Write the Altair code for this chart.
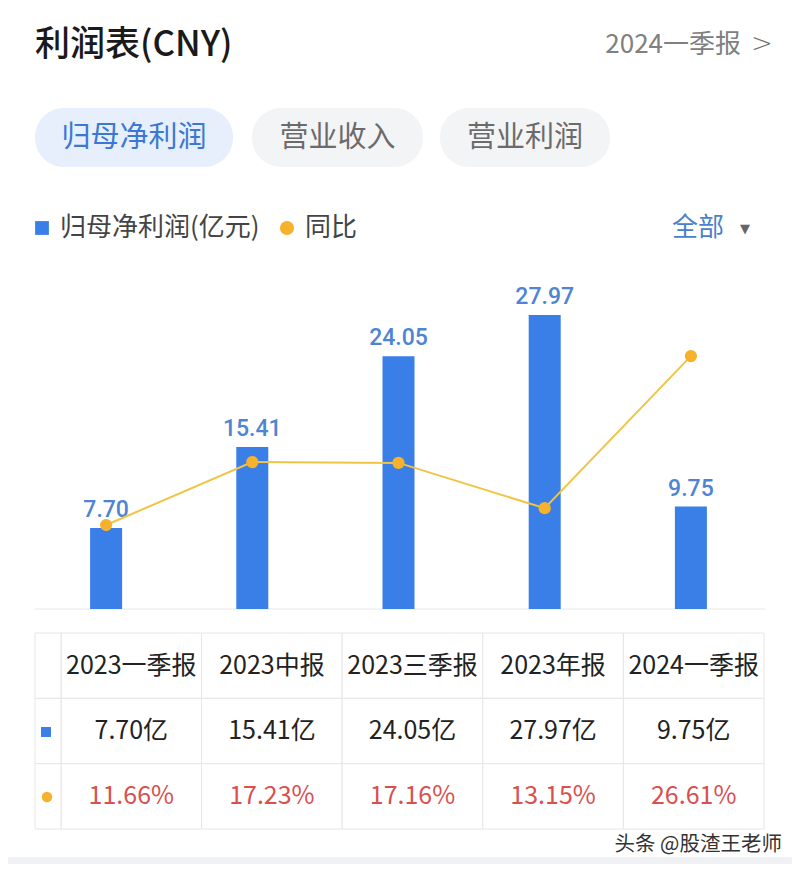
import altair as alt
import pandas as pd

# ---- data ----
periods = ["2023一季报", "2023中报", "2023三季报", "2023年报", "2024一季报"]
profit = [7.70, 15.41, 24.05, 27.97, 9.75]
yoy = [11.66, 17.23, 17.16, 13.15, 26.61]
tabs = ["归母净利润", "营业收入", "营业利润"]
title_text = "利润表(CNY)"
period_pick = "2024一季报"
legend_bar = "归母净利润(亿元)"
legend_line = "同比"
filter_text = "全部"
watermark = "头条 @股渣王老师"
rows = ["header", "value", "pct"]

W, H = 784, 856
FONT = "Noto Sans CJK SC"

df = pd.DataFrame({"period": periods, "profit": profit, "yoy": yoy})

table_records = []
for p, v, r in zip(periods, profit, yoy):
    table_records.append({"period": p, "row": "header", "label": p})
    table_records.append({"period": p, "row": "value", "label": f"{v:.2f}亿"})
    table_records.append({"period": p, "row": "pct", "label": f"{r:.2f}%"})
table = pd.DataFrame(table_records)


def one(text):
    return alt.Chart(pd.DataFrame({"t": [text]}))


# ---- scales ----
x_chart = alt.Scale(domain=periods, range=[25, 756], paddingInner=0, paddingOuter=0)
y_bar = alt.Scale(domain=[0, 34.16], range=[601, 242], nice=False, zero=True)
y_line = alt.Scale(domain=[4.23, 36.0], range=[601, 242], nice=False, zero=False)
x_table = alt.Scale(domain=periods, range=[53, 756], paddingInner=0, paddingOuter=0)
y_table = alt.Scale(domain=rows, range=[625, 821], paddingInner=0, paddingOuter=0)

layers = []

# ---- header ----
layers.append(one(title_text).mark_text(font=FONT, fontSize=35, fontWeight=500, color="#1a1a1a",
                                         align="left", baseline="middle").encode(
    x=alt.value(27), y=alt.value(37), text="t:N"))
layers.append(one(period_pick).mark_text(font=FONT, fontSize=26, color="#808080",
                                          align="right", baseline="middle").encode(
    x=alt.value(733), y=alt.value(37), text="t:N"))
layers.append(one(">").mark_text(font="DejaVu Sans", fontSize=26, fontWeight=200, color="#707070",
                                  align="center", baseline="middle").encode(
    x=alt.value(754), y=alt.value(36), text="t:N"))

# tabs
tab_boxes = [(27, 225), (244, 415), (432, 602)]
for i, (name, (x0, x1)) in enumerate(zip(tabs, tab_boxes)):
    active = i == 0
    layers.append(one(name).mark_rect(cornerRadius=29, fill="#e7effc" if active else "#f3f4f6").encode(
        x=alt.value(x0), x2=alt.value(x1), y=alt.value(100), y2=alt.value(159)))
    layers.append(one(name).mark_text(font=FONT, fontSize=29, color="#3a78d4" if active else "#6b6b6b",
                                       align="center", baseline="middle").encode(
        x=alt.value((x0 + x1) / 2), y=alt.value(130), text="t:N"))

# legend row
layers.append(one("b").mark_square(size=190, color="#3a7ee8", opacity=1).encode(
    x=alt.value(34), y=alt.value(220)))
layers.append(one(legend_bar).mark_text(font=FONT, fontSize=26, color="#444444",
                                         align="left", baseline="middle").encode(
    x=alt.value(52), y=alt.value(220), text="t:N"))
layers.append(one("o").mark_circle(size=200, color="#f6b22d", opacity=1).encode(
    x=alt.value(279), y=alt.value(220)))
layers.append(one(legend_line).mark_text(font=FONT, fontSize=26, color="#444444",
                                          align="left", baseline="middle").encode(
    x=alt.value(297), y=alt.value(220), text="t:N"))
layers.append(one(filter_text).mark_text(font=FONT, fontSize=26, color="#4a7fc9",
                                          align="left", baseline="middle").encode(
    x=alt.value(664), y=alt.value(220), text="t:N"))
layers.append(one("▼").mark_text(font="DejaVu Sans", fontSize=13, color="#666666",
                                  align="center", baseline="middle").encode(
    x=alt.value(737), y=alt.value(221), text="t:N"))

# ---- main chart ----
layers.append(one("base").mark_rule(color="#e8e8e8", strokeWidth=1).encode(
    x=alt.value(27), x2=alt.value(757), y=alt.value(601)))

layers.append(alt.Chart(df).mark_bar(width=32, color="#3a7ee8").encode(
    x=alt.X("period:N", scale=x_chart, axis=None, sort=periods),
    y=alt.Y("profit:Q", scale=y_bar, axis=None)))

layers.append(alt.Chart(df).mark_text(font="Roboto", fontSize=23, fontWeight=500, color="#4f84d2",
                                      dy=-11, baseline="alphabetic", align="center").encode(
    x=alt.X("period:N", scale=x_chart, axis=None, sort=periods),
    y=alt.Y("profit:Q", scale=y_bar, axis=None),
    text=alt.Text("profit:Q", format=".2f")))

layers.append(alt.Chart(df).mark_line(color="#f0c444", strokeWidth=2).encode(
    x=alt.X("period:N", scale=x_chart, axis=None, sort=periods),
    y=alt.Y("yoy:Q", scale=y_line, axis=None)))

layers.append(alt.Chart(df).mark_circle(size=150, color="#f6b22d", opacity=1).encode(
    x=alt.X("period:N", scale=x_chart, axis=None, sort=periods),
    y=alt.Y("yoy:Q", scale=y_line, axis=None)))

# ---- table ----
layers.append(alt.Chart(table).mark_rect(fill="white", stroke="#e6e6e6", strokeWidth=1).encode(
    x=alt.X("period:N", scale=x_table, axis=None, sort=periods),
    y=alt.Y("row:N", scale=y_table, axis=None, sort=rows)))

layers.append(alt.Chart(pd.DataFrame({"row": rows})).mark_rect(
    fill="white", stroke="#e6e6e6", strokeWidth=1).encode(
    x=alt.value(27), x2=alt.value(53),
    y=alt.Y("row:N", scale=y_table, axis=None, sort=rows)))

layers.append(one("sq").mark_square(size=100, color="#3a7ee8", opacity=1).encode(
    x=alt.value(38), y=alt.value(724)))
layers.append(one("dot").mark_circle(size=110, color="#f6b22d", opacity=1).encode(
    x=alt.value(39), y=alt.value(789)))

row_styles = {
    "header": ("#222222", 25),
    "value": ("#222222", 25),
    "pct": ("#d9504f", 25),
}
for r in rows:
    colr, fs = row_styles[r]
    layers.append(alt.Chart(table).transform_filter(alt.datum.row == r).mark_text(
        font=FONT, fontSize=fs, color=colr, align="center", baseline="middle").encode(
        x=alt.X("period:N", scale=x_table, axis=None, sort=periods),
        y=alt.Y("row:N", scale=y_table, axis=None, sort=rows),
        text="label:N"))

# watermark and bottom strip
layers.append(one(watermark).mark_text(font=FONT, fontSize=20.5, color="#333333",
                                        align="right", baseline="middle").encode(
    x=alt.value(774), y=alt.value(837), text="t:N"))
layers.append(one("strip").mark_rect(fill="#eff1f4").encode(
    x=alt.value(0), x2=alt.value(W), y=alt.value(849), y2=alt.value(H)))

chart = alt.layer(*layers).resolve_scale(
    x="independent", y="independent"
).properties(
    width=W, height=H, autosize=alt.AutoSizeParams(type="none"), padding=0, background="white"
).configure_view(stroke=None)

chart.save("out.html", embed_options={"renderer": "svg", "actions": False})
